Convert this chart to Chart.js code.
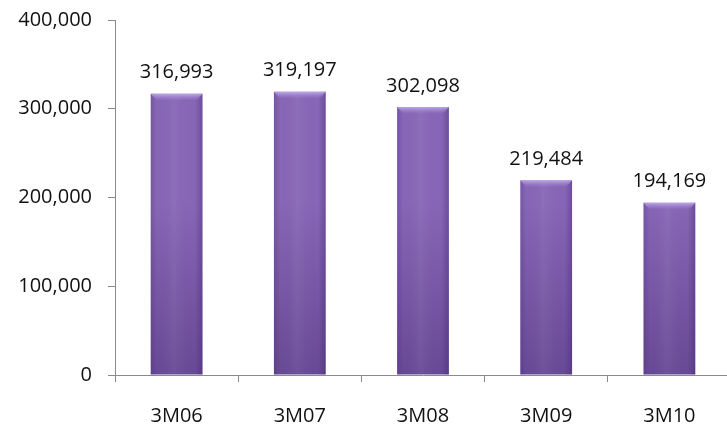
<!DOCTYPE html>
<html>
<head>
<meta charset="utf-8">
<script src="https://cdn.jsdelivr.net/npm/chart.js@4/dist/chart.umd.min.js"></script>
<style>
  html, body { margin: 0; padding: 0; background: #fff; overflow: hidden; }
  #wrap { width: 731px; height: 425px; }
</style>
</head>
<body>
<div id="wrap"><canvas id="myBarChart"></canvas></div>
<script>
const labels = ['3M06', '3M07', '3M08', '3M09', '3M10'];
const values = [316993, 319197, 302098, 219484, 194169];
const yTicks = [0, 100000, 200000, 300000, 400000];

const axisColor = '#8a8a8a';
const fontFamily = '"Open Sans", Lato, sans-serif';
const fontSize = 20;

const fmt = v => v.toLocaleString('en-US');

// purple "cylinder" shading drawn over the bars the library placed
const barShading = {
    id: 'barShading',
    beforeDatasetsDraw(chart) {
        const ctx = chart.ctx;
        chart.getDatasetMeta(0).data.forEach(bar => {
            const g = ctx.createLinearGradient(0, bar.y, 0, bar.base);
            g.addColorStop(0, '#8666b6');
            g.addColorStop(1, '#684996');
            bar.options.backgroundColor = g;
        });
    },
    afterDatasetsDraw(chart) {
        const ctx = chart.ctx;
        chart.getDatasetMeta(0).data.forEach(bar => {
            const left = bar.x - bar.width / 2;
            const w = bar.width;
            const h = bar.base - bar.y;
            // side shading
            const sg = ctx.createLinearGradient(left, 0, left + w, 0);
            sg.addColorStop(0, 'rgba(60,30,100,0.22)');
            sg.addColorStop(0.12, 'rgba(60,30,100,0.0)');
            sg.addColorStop(0.45, 'rgba(255,255,255,0.05)');
            sg.addColorStop(0.85, 'rgba(60,30,100,0.0)');
            sg.addColorStop(1, 'rgba(50,20,90,0.3)');
            ctx.fillStyle = sg;
            ctx.fillRect(left, bar.y, w, h);
            // top bevel
            const tg = ctx.createLinearGradient(0, bar.y, 0, bar.y + 7);
            tg.addColorStop(0, 'rgba(200,180,240,0.85)');
            tg.addColorStop(1, 'rgba(170,140,220,0.0)');
            ctx.fillStyle = tg;
            ctx.beginPath();
            ctx.moveTo(left, bar.y);
            ctx.lineTo(left + w, bar.y);
            ctx.lineTo(left + w - 6, bar.y + 7);
            ctx.lineTo(left + 6, bar.y + 7);
            ctx.closePath();
            ctx.fill();
        });
        // value labels
        ctx.save();
        ctx.fillStyle = '#111';
        ctx.font = fontSize + 'px ' + fontFamily;
        ctx.textAlign = 'center';
        ctx.textBaseline = 'middle';
        chart.getDatasetMeta(0).data.forEach((bar, i) => {
            ctx.fillText(fmt(values[i]), bar.x, bar.y - 21);
        });
        ctx.restore();
    }
};

const config = {
    type: 'bar',
    data: {
        labels: labels,
        datasets: [{
            data: values,
            backgroundColor: '#7a5aa8',
            borderWidth: 0,
            categoryPercentage: 1,
            barPercentage: 0.42
        }]
    },
    options: {
        responsive: true,
        maintainAspectRatio: false,
        animation: false,
        layout: { padding: { top: 20, right: 0, left: 0, bottom: 0 } },
        plugins: {
            legend: { display: false },
            tooltip: { enabled: false }
        },
        scales: {
            y: {
                min: 0,
                max: 400000,
                afterBuildTicks: scale => { scale.ticks = yTicks.map(v => ({ value: v })); },
                afterFit: scale => {
                    scale.width = 115;
                    scale.paddingTop = 0;
                    scale.paddingBottom = 0;
                },
                ticks: {
                    color: '#111',
                    font: { size: fontSize, family: fontFamily },
                    padding: 16,
                    callback: v => fmt(v)
                },
                grid: {
                    drawOnChartArea: false,
                    drawTicks: true,
                    tickLength: 7,
                    color: axisColor
                },
                border: { color: axisColor, width: 1 }
            },
            x: {
                afterFit: scale => {
                    scale.height = 50;
                    scale.paddingLeft = 0;
                    scale.paddingRight = 0;
                },
                ticks: {
                    color: '#111',
                    font: { size: fontSize, family: fontFamily },
                    padding: 22
                },
                grid: {
                    drawOnChartArea: false,
                    drawTicks: true,
                    tickLength: 7,
                    offset: true,
                    color: axisColor
                },
                border: { color: axisColor, width: 1 }
            }
        }
    },
    plugins: [barShading]
};

const myBarChart = new Chart(document.getElementById('myBarChart'), config);
</script>
</body>
</html>
